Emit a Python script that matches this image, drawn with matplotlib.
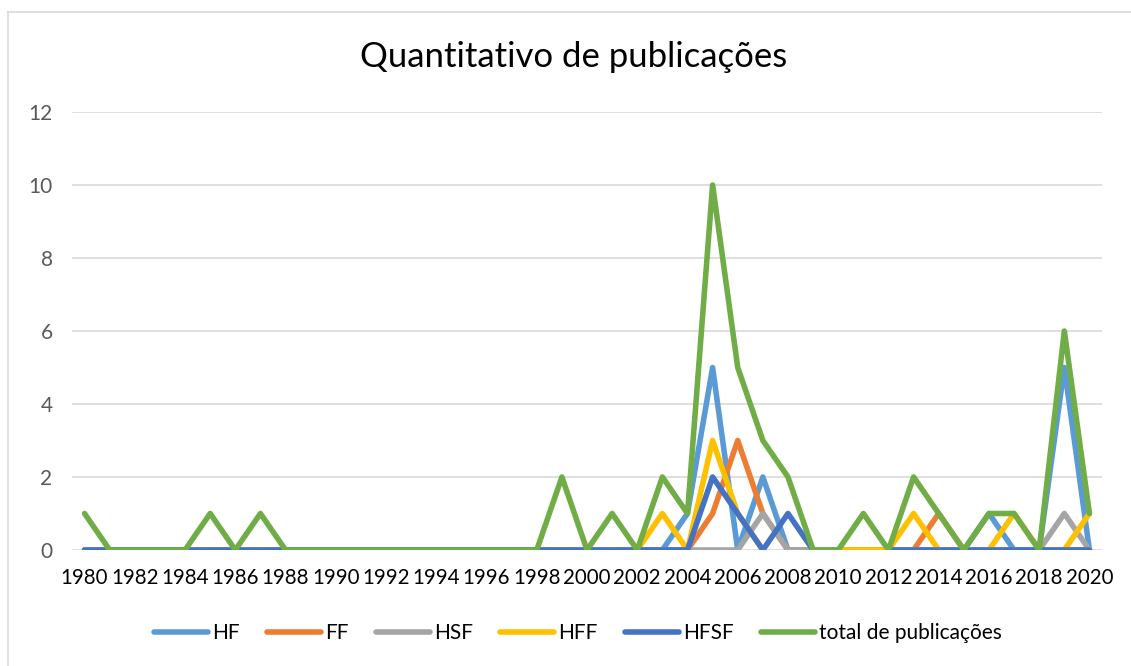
import numpy as np
import matplotlib
matplotlib.use("Agg")
import matplotlib.pyplot as plt
from matplotlib.lines import Line2D

plt.rcParams["font.family"] = ["Lato", "DejaVu Sans"]

nan = np.nan
years = list(range(1980, 2021))

# valores (1980..2020)
hf = [0] * 24 + [1, 5, 0, 2, 0, 0, 0, 0, 0, 0, 0, 0, 1, 0, 0, 5, 0]
ff = [0] * 25 + [1, 3, 1, 0, 0, 0, 0, 0, 0, 1, 0, 0, 0, 0, 0, 0]
hsf = [0] * 27 + [1, 0, 0, 0, 0, 0, 0, 0, 0, 0, 0, 0, 1, 0]
hff = [0] * 23 + [1, 0, 3, 1, 0, nan, nan, 0, 0, 0, 1, 0, 0, 0, 1, 0, 0, 1]
hfsf = [0] * 25 + [2, 1, 0, 1, 0, nan, nan, 0, 0, 0, 0, 0, 0, 0, 0, 0]
total = [1, 0, 0, 0, 0, 1, 0, 1, 0, 0, 0, 0, 0, 0, 0, 0, 0, 0, 0, 2,
         0, 1, 0, 2, 1, 10, 5, 3, 2, 0, 0, 1, 0, 2, 1, 0, 1, 1, 0, 6, 1]

series = [
    ("HF", hf, "#5B9BD5"),
    ("FF", ff, "#ED7D31"),
    ("HSF", hsf, "#A5A5A5"),
    ("HFF", hff, "#FFC000"),
    ("HFSF", hfsf, "#4472C4"),
    ("total de publicações", total, "#70AD47"),
]

W, H = 1131, 666
fig = plt.figure(figsize=(W / 100, H / 100), dpi=100)
ax = fig.add_axes([72 / W, 1 - 550 / H, (1102 - 72) / W, (550 - 112) / H])

for name, vals, color in series:
    ax.plot(years, np.array(vals, float), color=color, lw=4.0, label=name,
            solid_joinstyle="round", solid_capstyle="round")

ax.set_xlim(1979.5, 2020.5)
ax.set_ylim(0, 12)
ax.set_yticks(range(0, 13, 2))
ax.set_xticks(range(1980, 2021, 2))
ax.grid(axis="y", color="#D9D9D9", lw=1.2)
ax.set_axisbelow(True)
for s in ax.spines.values():
    s.set_visible(False)
ax.tick_params(length=0)
ax.tick_params(axis="y", labelsize=15, labelcolor="#595959", pad=14)
ax.tick_params(axis="x", labelsize=14.8, labelcolor="#000000", pad=13)

fig.text(574 / W, 1 - 57 / H, "Quantitativo de publicações",
         ha="center", va="center", fontsize=25, color="#000000")

fig.legend(loc="center", bbox_to_anchor=(578 / W, 1 - 633 / H), ncol=6,
           frameon=False, fontsize=15, handlelength=2.6, handletextpad=0.2,
           columnspacing=1.3)

# borda da área do gráfico
fig.add_artist(Line2D([8 / W, 8 / W], [0, 1 - 12 / H], transform=fig.transFigure,
                      color="#D9D9D9", lw=1.2))
fig.add_artist(Line2D([8 / W, 1], [1 - 12 / H, 1 - 12 / H], transform=fig.transFigure,
                      color="#D9D9D9", lw=1.2))

fig.savefig("out.png", dpi=100)
